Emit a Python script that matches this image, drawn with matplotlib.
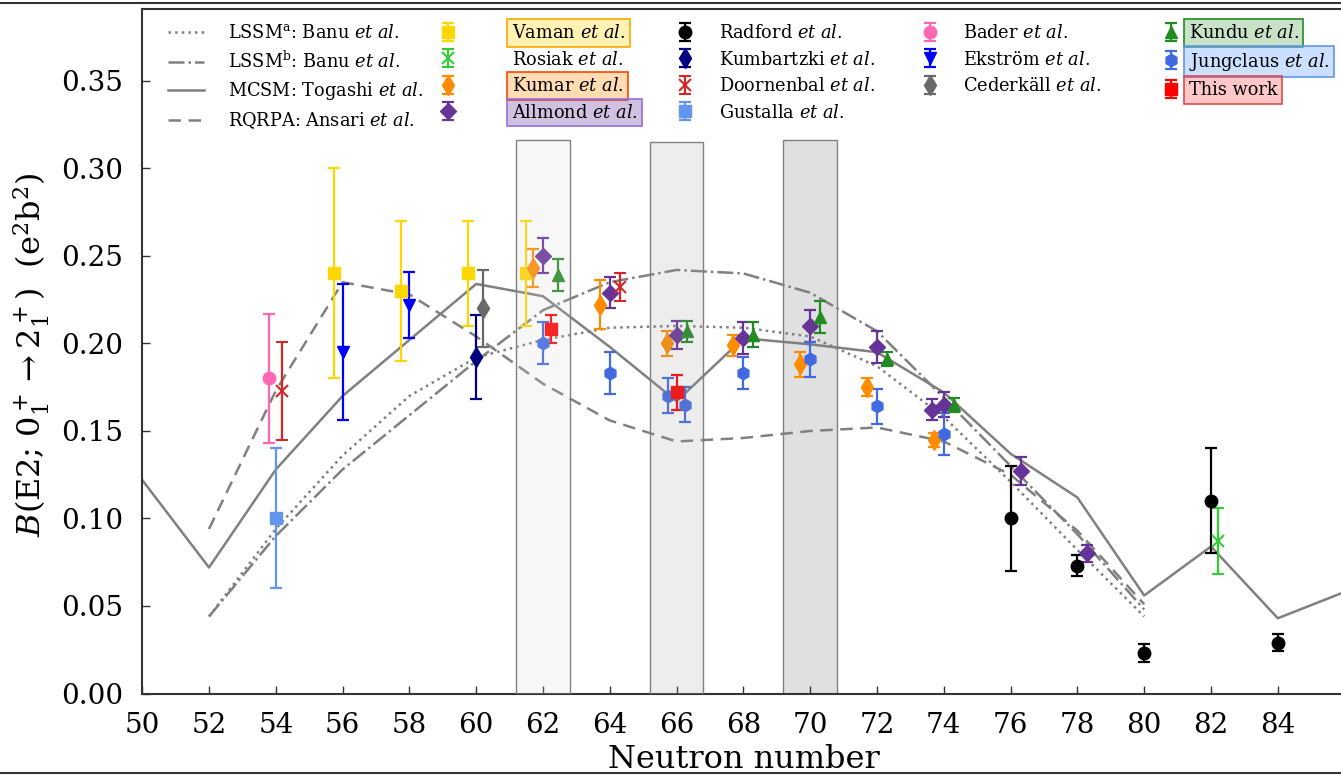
import matplotlib
matplotlib.use("Agg")
import matplotlib.pyplot as plt
from matplotlib.lines import Line2D
from matplotlib.legend import Legend

plt.rcParams['font.family'] = 'DejaVu Serif'
plt.rcParams['mathtext.fontset'] = 'dejavuserif'

# model curves (neutron number, B(E2) in e^2b^2)
lssm_n = [52, 54, 56, 58, 60, 62, 64, 66, 68, 70, 72, 74, 76, 78, 80]
lssm_a = [0.044, 0.094, 0.136, 0.170, 0.192, 0.202, 0.209, 0.210, 0.209, 0.204,
          0.187, 0.158, 0.121, 0.082, 0.044]
lssm_b = [0.044, 0.090, 0.128, 0.159, 0.190, 0.219, 0.235, 0.242, 0.240, 0.229,
          0.207, 0.169, 0.130, 0.091, 0.048]
mcsm_n = [50, 52, 54, 56, 58, 60, 62, 64, 66, 68, 70, 72, 74, 76, 78, 80, 82, 84, 86]
mcsm = [0.122, 0.072, 0.128, 0.170, 0.202, 0.234, 0.227, 0.198, 0.167, 0.203, 0.1995,
        0.195, 0.172, 0.137, 0.112, 0.056, 0.084, 0.043, 0.058]
rqrpa_n = [52, 54, 56, 58, 60, 62, 64, 66, 68, 70, 72, 74, 76, 78, 80]
rqrpa = [0.094, 0.173, 0.235, 0.228, 0.204, 0.177, 0.156, 0.144, 0.146, 0.150,
         0.152, 0.144, 0.125, 0.093, 0.051]

# experimental data (N shifted a little in the original for readability)
vaman_n = [55.75, 57.75, 59.75, 61.5]
vaman_b = [0.240, 0.230, 0.240, 0.240]
vaman_e = [0.060, 0.040, 0.030, 0.030]

rosiak_n = [82.2]
rosiak_b = [0.087]
rosiak_e = [0.019]

kumar_n = [61.7, 63.7, 65.7, 67.7, 69.7, 71.7, 73.7]
kumar_b = [0.243, 0.222, 0.200, 0.199, 0.188, 0.175, 0.145]
kumar_e = [0.011, 0.014, 0.007, 0.006, 0.007, 0.005, 0.004]

allmond_n = [62.0, 64.0, 66.0, 68.0, 70.0, 72.0, 73.65, 74.0, 76.3, 78.3]
allmond_b = [0.250, 0.229, 0.205, 0.203, 0.210, 0.198, 0.162, 0.165, 0.127, 0.080]
allmond_e = [0.010, 0.009, 0.008, 0.009, 0.009, 0.009, 0.006, 0.007, 0.008, 0.005]

radford_n = [76, 78, 80, 82, 84]
radford_b = [0.100, 0.073, 0.023, 0.110, 0.029]
radford_e = [0.030, 0.006, 0.005, 0.030, 0.005]

kumbartzki_n = [60.0]
kumbartzki_b = [0.192]
kumbartzki_e = [0.024]

doornenbal_n = [54.2, 64.3]
doornenbal_b = [0.173, 0.232]
doornenbal_e = [0.028, 0.008]

gustalla_n = [54.0]
gustalla_b = [0.100]
gustalla_e = [0.040]

bader_n = [53.8]
bader_b = [0.180]
bader_e = [0.037]

ekstrom_n = [56.0, 58.0]
ekstrom_b = [0.195, 0.222]
ekstrom_e = [0.039, 0.019]

cederkall_n = [60.2]
cederkall_b = [0.220]
cederkall_e = [0.022]

kundu_n = [62.45, 66.3, 68.3, 70.3, 72.3, 74.3]
kundu_b = [0.239, 0.207, 0.205, 0.215, 0.191, 0.165]
kundu_e = [0.009, 0.006, 0.007, 0.009, 0.004, 0.004]

jungclaus_n = [62.0, 64.0, 65.75, 66.25, 68.0, 70.0, 72.0, 74.0]
jungclaus_b = [0.200, 0.183, 0.170, 0.165, 0.183, 0.191, 0.164, 0.148]
jungclaus_e = [0.012, 0.012, 0.010, 0.010, 0.009, 0.010, 0.010, 0.012]

this_n = [62.25, 66.0]
this_b = [0.208, 0.172]
this_e = [0.008, 0.010]

# shaded N regions
band_n = [62, 66, 70]
band_top = [0.316, 0.315, 0.316]

W, H = 1341, 775
fig = plt.figure(figsize=(W / 100, H / 100), dpi=100)
ax = fig.add_axes([142.2 / W, 81.5 / H, 36 * 33.4 / W, 684.5 / H])

gray = '#808080'
ax.plot(lssm_n, lssm_a, ls=':', color=gray, lw=1.8, label=r'LSSM$^{\rm a}$: Banu $\mathit{et\ al.}$')
ax.plot(lssm_n, lssm_b, ls='-.', color=gray, lw=1.8, label=r'LSSM$^{\rm b}$: Banu $\mathit{et\ al.}$')
ax.plot(mcsm_n, mcsm, ls='-', color=gray, lw=1.8, label=r'MCSM: Togashi $\mathit{et\ al.}$')
ax.plot(rqrpa_n, rqrpa, ls=(0, (5, 3)), color=gray, lw=1.8, label=r'RQRPA: Ansari $\mathit{et\ al.}$')

# bands: first two sit over the points (they look washed out), last one behind
ax.bar(band_n[:2], band_top[:2], width=1.6, color=[(0.83, 0.83, 0.83, 0.18), (0.62, 0.62, 0.62, 0.18)],
       edgecolor=gray, linewidth=1.0, zorder=5)
ax.bar(band_n[2:], band_top[2:], width=1.6, color='#e0e0e0', edgecolor=gray, linewidth=1.0, zorder=0.5)

eb = dict(capsize=4.5, elinewidth=1.6, capthick=1.6, ls='none', zorder=3)
def dat(n, b, e, fmt, c, lab, ms=8.5, **kw):
    return ax.errorbar(n, b, yerr=e, fmt=fmt, color=c, ms=ms, label=lab, **eb, **kw)

h_vaman = dat(vaman_n, vaman_b, vaman_e, 's', 'gold', r'Vaman $\mathit{et\ al.}$')
h_rosiak = dat(rosiak_n, rosiak_b, rosiak_e, 'x', 'limegreen', r'Rosiak $\mathit{et\ al.}$', ms=8, mew=1.5)
h_kumar = dat(kumar_n, kumar_b, kumar_e, 'd', 'darkorange', r'Kumar $\mathit{et\ al.}$', ms=10)
h_allmond = dat(allmond_n, allmond_b, allmond_e, 'D', 'rebeccapurple', r'Allmond $\mathit{et\ al.}$', ms=8)
h_radford = dat(radford_n, radford_b, radford_e, 'o', 'black', r'Radford $\mathit{et\ al.}$', ms=9)
h_kumb = dat(kumbartzki_n, kumbartzki_b, kumbartzki_e, 'd', 'navy', r'Kumbartzki $\mathit{et\ al.}$', ms=10)
h_door = dat(doornenbal_n, doornenbal_b, doornenbal_e, 'x', '#d62728', r'Doornenbal $\mathit{et\ al.}$', ms=8, mew=1.5)
h_gust = dat(gustalla_n, gustalla_b, gustalla_e, 's', 'cornflowerblue', r'Gustalla $\mathit{et\ al.}$')
h_bader = dat(bader_n, bader_b, bader_e, 'o', 'hotpink', r'Bader $\mathit{et\ al.}$', ms=9)
h_ek = dat(ekstrom_n, ekstrom_b, ekstrom_e, 'v', 'blue', r'Ekström $\mathit{et\ al.}$', ms=9)
h_ced = dat(cederkall_n, cederkall_b, cederkall_e, 'd', 'dimgray', r'Cederkäll $\mathit{et\ al.}$', ms=10)
h_kundu = dat(kundu_n, kundu_b, kundu_e, '^', 'forestgreen', r'Kundu $\mathit{et\ al.}$', ms=9)
h_jung = dat(jungclaus_n, jungclaus_b, jungclaus_e, 'h', 'royalblue', r'Jungclaus $\mathit{et\ al.}$', ms=9)
h_this = dat(this_n, this_b, this_e, 's', 'red', 'This work')

ax.set_xlim(50, 86)
ax.set_ylim(0, 0.3911)
ax.set_xticks(range(50, 86, 2))
ax.set_yticks([0, 0.05, 0.10, 0.15, 0.20, 0.25, 0.30, 0.35])
ax.yaxis.set_major_formatter(matplotlib.ticker.FormatStrFormatter('%.2f'))
ax.tick_params(direction='in', length=6, width=1.0, labelsize=20, color='#333333')
ax.tick_params(axis='x', pad=13)
ax.tick_params(axis='y', pad=14)
for s in ax.spines.values():
    s.set_linewidth(1.5)
    s.set_color('#333333')

ax.set_xlabel('Neutron number', fontsize=23, va='baseline')
ax.xaxis.set_label_coords(0.5, (693.5 - 768) / 684.5)
ax.set_ylabel(r'$B$(E2; $0_1^+ \rightarrow 2_1^+$)  (e$^2$b$^2$)', fontsize=23)
ax.yaxis.set_label_coords((52 - 142.2) / 1202.4, 0.495)

# legend, split into columns so each can be placed like the original
lines = ax.get_lines()[:4]
cols = [
    (lines, 168, 1.4, []),
    ([h_vaman, h_rosiak, h_kumar, h_allmond], 430, 2.6,
     [((1, 0.84, 0, 0.3), 'orange'), None, ((1, 0.55, 0, 0.3), 'orangered'),
      ((0.4, 0.2, 0.6, 0.3), 'mediumpurple')]),
    ([h_radford, h_kumb, h_door, h_gust], 667, 0.95, []),
    ([h_bader, h_ek, h_ced], 912, 0.85, []),
    ([h_kundu, h_jung, h_this], 1153, 0.0,
     [((0.13, 0.55, 0.13, 0.25), 'forestgreen'), ((0.55, 0.72, 1.0, 0.45), 'cornflowerblue'),
      ((1, 0, 0, 0.22), '#e84a4a')]),
]
for hs, x0, pad, boxes in cols:
    leg = Legend(ax, hs, [h.get_label() for h in hs], loc='upper left',
                 bbox_to_anchor=((x0 - 142.2) / 1202.4, 1 - (24 - 9) / 684.5),
                 frameon=False, fontsize=12.8, borderpad=0, borderaxespad=0,
                 handlelength=2.0, handletextpad=pad, labelspacing=0.48)
    for t, bx in zip(leg.get_texts(), boxes):
        if bx is not None:
            t.set_bbox(dict(facecolor=bx[0], edgecolor=bx[1], pad=3.5, linewidth=1.2))
    ax.add_artist(leg)

# frame lines from the surrounding figure
fig.add_artist(Line2D([0, 1], [1 - 2.5 / H, 1 - 2.5 / H], color='#333333', lw=1.5))
fig.add_artist(Line2D([0, 1], [2.5 / H, 2.5 / H], color='#333333', lw=1.5))

fig.savefig('out.png', dpi=100)
